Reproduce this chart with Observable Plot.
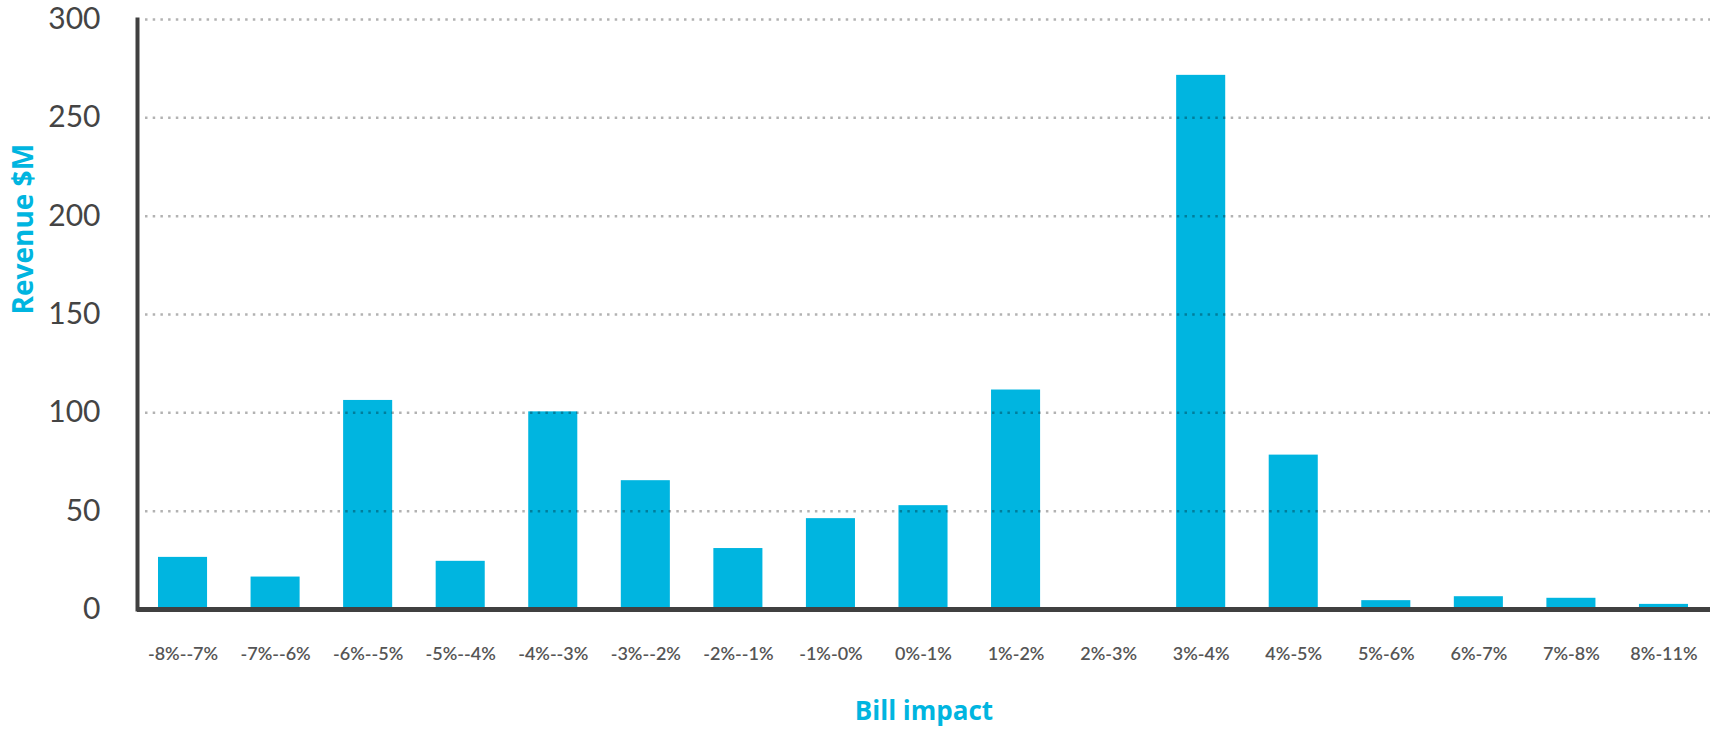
<!DOCTYPE html>
<html>
<head>
<meta charset="utf-8">
<script src="https://cdn.jsdelivr.net/npm/d3@7"></script>
<script src="https://cdn.jsdelivr.net/npm/@observablehq/plot@0.6"></script>
<style>
  html, body { margin: 0; padding: 0; background: #fff; }
  #chart svg { display: block; }
</style>
</head>
<body>
<div id="chart"></div>
<script>
const categories = ["-8%--7%", "-7%--6%", "-6%--5%", "-5%--4%", "-4%--3%", "-3%--2%", "-2%--1%", "-1%-0%", "0%-1%", "1%-2%", "2%-3%", "3%-4%", "4%-5%", "5%-6%", "6%-7%", "7%-8%", "8%-11%"];
const revenue = [26.5, 16.5, 106.3, 24.5, 100.5, 65.5, 31, 46.2, 52.8, 111.6, 0, 271.6, 78.5, 4.5, 6.5, 5.7, 2.6];
const yTicks = [0, 50, 100, 150, 200, 250, 300];
const gridTicks = [50, 100, 150, 200, 250, 300];
const xLabel = "Bill impact";
const yLabel = "Revenue $M";

const data = categories.map((c, i) => ({category: c, value: revenue[i]}));
const cyan = "#00b5e0";
const dark = "#404040";

const chart = Plot.plot({
  width: 1713,
  height: 735,
  marginLeft: 137,
  marginRight: 3,
  marginTop: 19,
  marginBottom: 126,
  style: {fontFamily: "Lato, 'Open Sans', sans-serif", background: "#fff"},
  x: {domain: categories, range: [158, 1688], paddingInner: 0.47, paddingOuter: 0, round: false, label: null},
  y: {domain: [0, 300], label: null},
  marks: [
    Plot.barY(data, {x: "category", y: "value", fill: cyan}),
    Plot.gridY(gridTicks, {stroke: "#000", strokeOpacity: 0.3, strokeWidth: 2.5, strokeDasharray: "2.5,5.2", insetLeft: 8}),
    Plot.frame({anchor: "left", stroke: dark, strokeWidth: 4}),
    Plot.ruleY([0], {stroke: dark, strokeWidth: 5}),
    Plot.axisY({ticks: yTicks, tickSize: 0, tickPadding: 37, fontSize: 30, fill: "#444", label: null}),
    Plot.axisX({tickSize: 0, tickPadding: 38, fontSize: 18, fontWeight: 600, letterSpacing: 0.5, fill: "#555", label: null}),
    Plot.text([xLabel], {text: d => d, frameAnchor: "bottom", dy: 110, fontSize: 26, fontWeight: "bold", fontFamily: "'Open Sans', sans-serif", fill: cyan}),
    Plot.text([yLabel], {text: d => d, frameAnchor: "left", rotate: -90, dx: -113, fontSize: 28, fontWeight: "bold", letterSpacing: 1.5, fontFamily: "'Open Sans', sans-serif", fill: cyan})
  ]
});
document.getElementById("chart").appendChild(chart);
</script>
</body>
</html>
